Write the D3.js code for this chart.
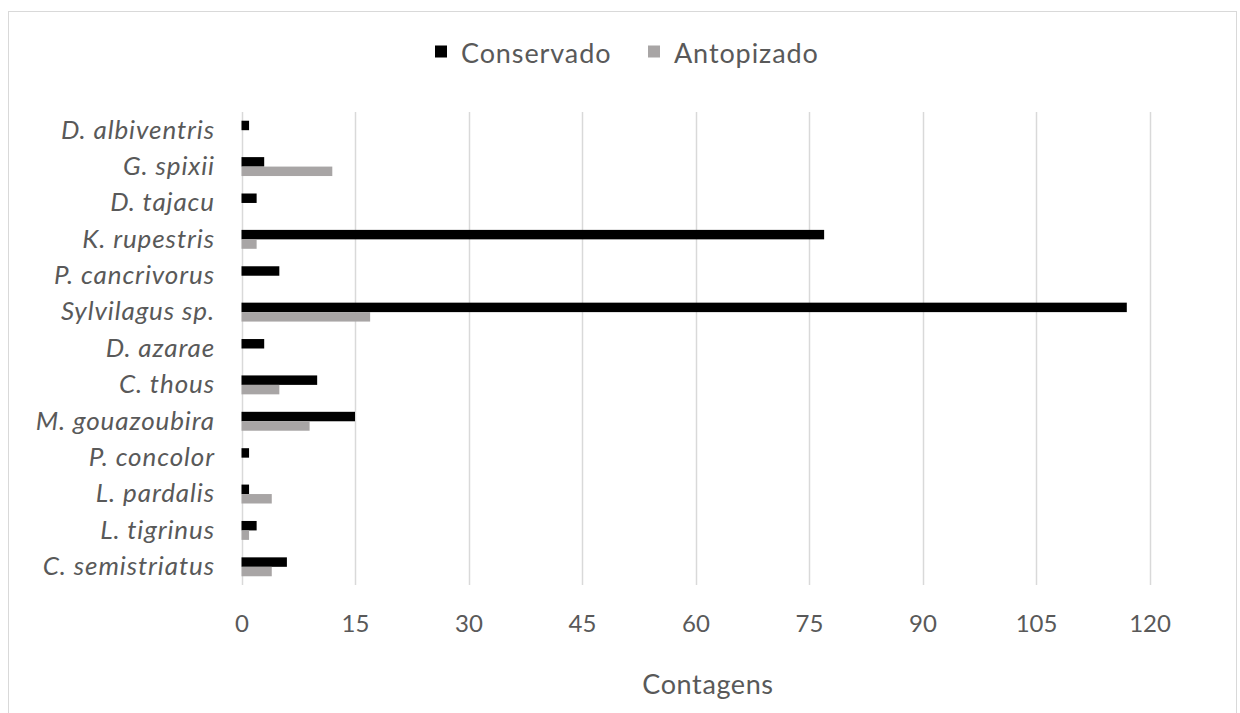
<!DOCTYPE html>
<html>
<head>
<meta charset="utf-8">
<script src="https://cdn.jsdelivr.net/npm/d3@7"></script>
<style>
  html, body { margin: 0; padding: 0; background: #fff; }
  svg { display: block; font-family: Lato, "Open Sans", sans-serif; }
</style>
</head>
<body>
<svg id="chart" width="1240" height="713"></svg>
<script>
// Species, top to bottom
const categories = [
  "D. albiventris", "G. spixii", "D. tajacu", "K. rupestris", "P. cancrivorus",
  "Sylvilagus sp.", "D. azarae", "C. thous", "M. gouazoubira", "P. concolor",
  "L. pardalis", "L. tigrinus", "C. semistriatus"
];
const seriesNames = ["Conservado", "Antopizado"];
const conservado = [1, 3, 2, 77, 5, 117, 3, 10, 15, 1, 1, 2, 6];
const antropizado = [0, 12, 0, 2, 0, 17, 0, 5, 9, 0, 4, 1, 4];
const xTicks = [0, 15, 30, 45, 60, 75, 90, 105, 120];
const colors = ["#000000", "#a8a5a5"];

const svg = d3.select("#chart");
const textColor = "#595959";

// Outer chart frame
svg.append("rect")
  .attr("x", 8.5).attr("y", 11.5)
  .attr("width", 1228).attr("height", 720)
  .attr("fill", "#fff").attr("stroke", "#d9d9d9").attr("stroke-width", 1);

const x = d3.scaleLinear().domain([0, 120]).range([241.5, 1149.5]);
const y = d3.scaleBand().domain(categories).range([112, 585]).paddingInner(0.48).paddingOuter(0.24);
const sub = d3.scaleBand().domain(seriesNames).range([0, y.bandwidth()]);

// Vertical gridlines
svg.append("g")
  .selectAll("line")
  .data(xTicks)
  .join("line")
  .attr("x1", d => Math.round(x(d)) + 0.5)
  .attr("x2", d => Math.round(x(d)) + 0.5)
  .attr("y1", 112).attr("y2", 585)
  .attr("stroke", "#d9d9d9").attr("stroke-width", 1.5);

// Bars
const series = [conservado, antropizado];
series.forEach((vals, si) => {
  svg.append("g")
    .selectAll("rect")
    .data(vals.map((v, i) => ({ cat: categories[i], v })))
    .join("rect")
    .attr("x", x(0))
    .attr("y", d => y(d.cat) + sub(seriesNames[si]))
    .attr("width", d => x(d.v) - x(0))
    .attr("height", sub.bandwidth())
    .attr("fill", colors[si]);
});

// X axis tick labels
const xAxis = d3.axisBottom(x).tickValues(xTicks).tickSize(0).tickPadding(0);
const gx = svg.append("g").attr("transform", "translate(0,615)").call(xAxis);
gx.select(".domain").remove();
gx.selectAll("text")
  .attr("font-family", "Lato, 'Open Sans', sans-serif")
  .attr("font-size", 24)
  .attr("fill", textColor);

// Y axis category labels
const yAxis = d3.axisLeft(y).tickSize(0).tickPadding(0);
const gy = svg.append("g").attr("transform", "translate(215,0)").call(yAxis);
gy.select(".domain").remove();
gy.selectAll("text")
  .attr("font-family", "Lato, 'Open Sans', sans-serif")
  .attr("font-size", 26)
  .attr("font-style", "italic")
  .attr("letter-spacing", 0.9)
  .attr("fill", textColor);

// Axis title
svg.append("text")
  .attr("x", 708).attr("y", 694)
  .attr("text-anchor", "middle")
  .attr("font-size", 27)
  .attr("letter-spacing", 0.6)
  .attr("fill", textColor)
  .text("Contagens");

// Legend
const legend = svg.append("g");
const legendItems = [
  { name: seriesNames[0], color: colors[0], sx: 435, tx: 461 },
  { name: seriesNames[1], color: colors[1], sx: 648, tx: 674 }
];
legendItems.forEach(it => {
  legend.append("rect")
    .attr("x", it.sx).attr("y", 45.5)
    .attr("width", 12).attr("height", 12)
    .attr("fill", it.color);
  legend.append("text")
    .attr("x", it.tx).attr("y", 63)
    .attr("font-size", 27)
    .attr("letter-spacing", 0.9)
    .attr("fill", textColor)
    .text(it.name);
});
</script>
</body>
</html>
